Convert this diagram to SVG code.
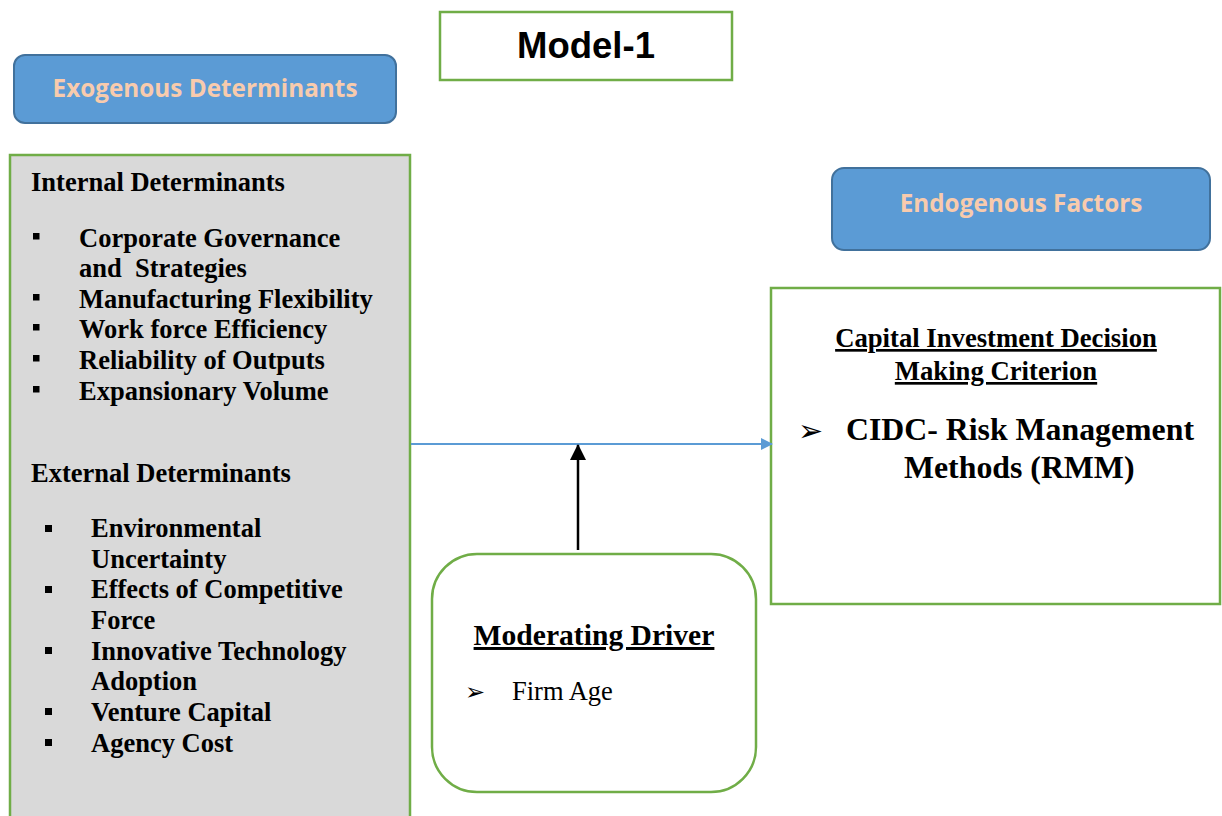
<svg xmlns="http://www.w3.org/2000/svg" width="1222" height="816" viewBox="0 0 1222 816">
<style>
.t{font-family:"Liberation Serif","Times New Roman",serif;font-weight:bold;fill:#000}
.hdr{font-family:"Open Sans","Noto Sans",sans-serif;font-weight:bold;fill:#F8CBAD;font-size:24.3px}
.blue{fill:#5B9BD5;stroke:#41719C;stroke-width:2}
.arw{font-family:"DejaVu Sans",sans-serif;fill:#000}
</style>
<defs>
<marker id="mb" markerWidth="12" markerHeight="12" refX="11" refY="6" orient="auto" markerUnits="userSpaceOnUse"><path d="M0,0 L12,6 L0,12 z" fill="#5B9BD5"/></marker>
<marker id="mk" markerWidth="16" markerHeight="16" refX="15" refY="8" orient="auto" markerUnits="userSpaceOnUse"><path d="M0,0 L16,8 L0,16 z" fill="#000"/></marker>
</defs>
<rect width="1222" height="816" fill="#fff"/>
<g id="title">
<rect x="440" y="12" width="292" height="68" fill="#fff" stroke="#70AD47" stroke-width="2.5"/>
<text x="586" y="58" text-anchor="middle" font-family="Liberation Sans,Arial,sans-serif" font-weight="bold" font-size="36.5">Model-1</text>
</g>
<g id="exogenous">
<rect x="14" y="55" width="382" height="68" rx="11" class="blue"/>
<text x="205" y="97" text-anchor="middle" class="hdr">Exogenous Determinants</text>
</g>
<g id="determinants">
<rect x="10" y="155" width="400" height="670" fill="#D9D9D9" stroke="#70AD47" stroke-width="2.5"/>
<text x="31" y="191" class="t" font-size="26.5">Internal Determinants</text>
<g fill="#000">
<rect x="33" y="233" width="6.5" height="6.5"/>
<rect x="33" y="294" width="6.5" height="6.5"/>
<rect x="33" y="324" width="6.5" height="6.5"/>
<rect x="33" y="355" width="6.5" height="6.5"/>
<rect x="33" y="386" width="6.5" height="6.5"/>
</g>
<g class="t" font-size="26.5">
<text x="79" y="247">Corporate Governance</text>
<text x="79" y="277" xml:space="preserve">and  Strategies</text>
<text x="79" y="308">Manufacturing Flexibility</text>
<text x="79" y="338">Work force Efficiency</text>
<text x="79" y="369">Reliability of Outputs</text>
<text x="79" y="400">Expansionary Volume</text>
</g>
<text x="31" y="482" class="t" font-size="26.5">External Determinants</text>
<g fill="#000">
<rect x="45" y="525" width="7" height="7"/>
<rect x="45" y="586" width="7" height="7"/>
<rect x="45" y="647" width="7" height="7"/>
<rect x="45" y="708" width="7" height="7"/>
<rect x="45" y="739" width="7" height="7"/>
</g>
<g class="t" font-size="26.5">
<text x="91" y="537">Environmental</text>
<text x="91" y="568">Uncertainty</text>
<text x="91" y="598">Effects of Competitive</text>
<text x="91" y="629">Force</text>
<text x="91" y="660">Innovative Technology</text>
<text x="91" y="690">Adoption</text>
<text x="91" y="721">Venture Capital</text>
<text x="91" y="752">Agency Cost</text>
</g>
</g>
<g id="endogenous">
<rect x="832" y="168" width="378" height="82" rx="12" class="blue"/>
<text x="1021" y="212" text-anchor="middle" class="hdr">Endogenous Factors</text>
</g>
<g id="cidc">
<rect x="771" y="288" width="449" height="316" fill="#fff" stroke="#70AD47" stroke-width="2.5"/>
<g class="t" font-size="26.7" text-anchor="middle" text-decoration="underline">
<text x="996" y="347">Capital Investment Decision</text>
<text x="996" y="380">Making Criterion</text>
</g>
<text x="798" y="441" class="arw" font-size="30">➢</text>
<g class="t" font-size="31.8">
<text x="846" y="440">CIDC- Risk Management</text>
<text x="904" y="478">Methods (RMM)</text>
</g>
</g>
<g id="moderating">
<rect x="432" y="554" width="324" height="238" rx="45" fill="#fff" stroke="#70AD47" stroke-width="2.5"/>
<text x="594" y="645" text-anchor="middle" class="t" font-size="29.6" text-decoration="underline">Moderating Driver</text>
<text x="465" y="700" class="arw" font-size="24">➢</text>
<text x="512" y="700" font-family="Liberation Serif,Times New Roman,serif" font-size="26.5">Firm Age</text>
</g>
<g id="connectors">
<line x1="411" y1="444" x2="772" y2="444" stroke="#5B9BD5" stroke-width="2" marker-end="url(#mb)"/>
<line x1="578" y1="550" x2="578" y2="445" stroke="#000" stroke-width="2.5" marker-end="url(#mk)"/>
</g>
</svg>
